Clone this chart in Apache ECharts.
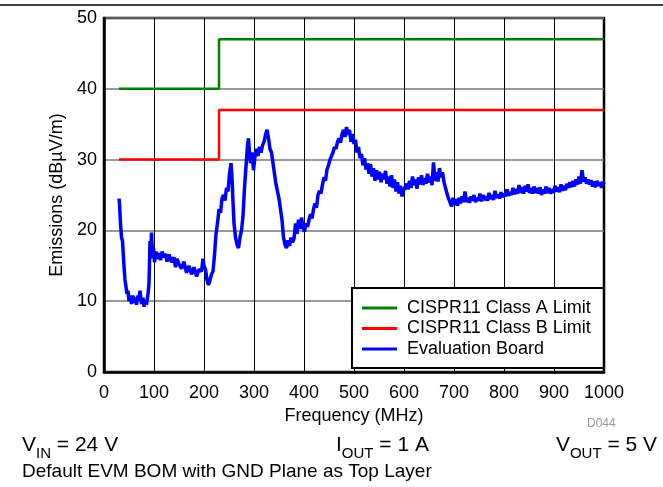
<!DOCTYPE html>
<html><head><meta charset="utf-8">
<script src="https://cdn.jsdelivr.net/npm/echarts@6/dist/echarts.min.js"></script>
<style>html,body{margin:0;padding:0;background:#fff}#c{width:663px;height:487px}</style>
</head><body><div id="c"></div>
<script>
const xTicks = [0,100,200,300,400,500,600,700,800,900,1000];
const yTicks = [0,10,20,30,40,50];
const classA = [[30,40],[230,40],[230,47],[1000,47]];
const classB = [[30,30],[230,30],[230,37],[1000,37]];
const evalFreq = [30,31,33,35,37,40,42,44,46,48,50,52,55,58,60,62,65,68,70,72,75,78,80,82,85,88,90,92,93,95,97,99,101,104,107,110,113,116,120,123,126,130,135,140,143,146,150,155,160,165,170,175,180,185,190,195,198,200,203,206,209,212,215,218,221,224,227,230,233,236,239,242,245,248,251,254,256,258,260,263,266,269,272,275,278,281,284,287,289,291,293,296,299,302,305,308,311,314,317,320,323,326,329,332,335,338,341,344,347,350,353,356,359,362,365,368,371,374,377,380,383,386,389,392,395,398,401,404,407,410,413,416,419,422,425,428,431,434,437,440,443,446,449,452,455,458,461,464,467,470,473,476,479,482,485,488,491,494,497,500,503,506,509,512,515,518,521,524,527,530,533,536,539,542,545,548,551,554,557,560,563,566,569,572,575,578,581,584,587,590,593,596,599,602,605,608,611,614,617,620,623,626,629,632,635,638,641,644,647,650,653,656,659,662,665,668,671,674,677,680,683,686,689,692,695,698,701,704,707,710,713,716,719,722,725,728,731,734,737,740,743,746,749,752,755,758,761,764,767,770,773,776,779,782,785,788,791,794,797,800,803,806,809,812,815,818,821,824,827,830,833,836,839,842,845,848,851,854,857,860,863,866,869,872,875,878,881,884,887,890,893,896,899,902,905,908,911,914,917,920,923,926,929,932,935,938,941,944,947,950,953,956,959,962,965,968,971,974,977,980,983,986,989,992,995,998,1000];
const evalVal = [24.5,23.8,21,19,18.5,15,13,12,11,11.5,10,10.8,9.6,10.8,9.8,10.5,9.5,10.8,10.2,11.5,9.6,10.5,9.2,10.2,9.5,11,12.5,18.5,16,19.7,16.5,17.5,15.5,17,16,16.8,15.8,17,16.2,16.7,15.6,16.6,15.5,16.2,14.8,16,15.2,14.6,15.6,14,15,13.8,14.8,13.5,14.5,14.2,16,15,14.5,13,12.3,13,13.8,14.2,16.5,19.5,21,23,22.5,24.5,25,24.2,26,25.5,28,29.5,27.5,24,21,19,18,17.5,19,20,22,26,29,32,33,31,29.5,31,28.5,30.5,31.5,30.5,31.8,31,32,32.5,33.5,34.2,33,31.5,31,29.5,28,26.5,25.5,24.5,23,21.5,19,18,17.5,18.6,17.8,19,18.3,18.8,21,19.5,21.5,20.2,21.8,20.5,19.8,21,20.5,21.5,22.3,21.7,23,23.8,23.2,25,25.6,25.2,26.5,27.5,27,28.6,29.2,30,29.8,31,31.8,31.5,32.5,33,32.4,33.6,34.2,33.2,34.6,33.5,34.2,32.5,33.6,32.2,32.8,31,31.8,30.2,30.8,29.2,30.2,28.6,29.5,28,29.4,27.6,28.8,27,28.5,27.2,28.3,26.8,28,27.2,28.4,26.6,27.6,26.2,27.8,26,27.2,25.5,26.8,25.2,26.3,24.8,25.6,25.4,26.6,25.8,27,26,27.6,26.4,27.2,25.9,27.5,26.5,27.8,26.4,27.4,26.6,28,26.8,27.6,26.4,29.6,27,28.2,26.9,28.8,27.5,28.2,26.8,26,25.2,24.5,24,23.4,24.6,23.6,24.4,23.5,24.6,23.8,24.8,24,25.5,24,24.6,23.9,24.8,24.2,25,24,24.6,24.2,25.2,24.1,25,24.3,24.8,24.2,25.3,24.4,25,24.3,25.6,24.6,25.1,24.5,25.4,24.7,25.2,24.8,25.8,24.9,25.4,25,26,25.1,25.8,25.2,26.4,25.3,26.1,25.2,26.3,25.5,26.5,25.3,26,25.2,26.2,25.3,26,25.2,26.1,25,25.8,25.2,26.2,25.3,26,25.2,25.8,25.3,26.3,25.5,26.1,25.4,26.5,25.6,26.3,25.7,26.6,26,26.8,26.1,27,26.2,27.2,26.5,27.6,26.6,28.5,26.9,27.5,26.6,27.2,26.5,27.1,26.2,26.9,26.1,27,26.3,26.8,26,26.9,26.5];
const evalData = evalFreq.map((f,i)=>[f, evalVal[i]]);

const chart = echarts.init(document.getElementById('c'), null, {renderer:'canvas'});
const FF = 'Liberation Sans, Arial, sans-serif';
const richSub = {m:{font:'21px '+FF, fill:'#000', verticalAlign:'bottom', lineHeight:24}, s:{font:'15px '+FF, fill:'#000', verticalAlign:'bottom', lineHeight:18, padding:[0,0,-5,0]}};
chart.setOption({
  animation:false,
  backgroundColor:'#fff',
  grid:{left:104, top:18, right:59, bottom:115, show:true, borderColor:'#000', borderWidth:2.5, backgroundColor:'transparent'},
  xAxis:{type:'value', min:0, max:1000, interval:100,
    name:'Frequency (MHz)', nameLocation:'middle', nameGap:30,
    nameTextStyle:{fontFamily:FF, fontSize:18, color:'#000'},
    axisLine:{show:true, lineStyle:{color:'#000', width:2.5}},
    axisTick:{show:false},
    axisLabel:{fontFamily:FF, fontSize:18, color:'#000', margin:12, formatter:v=>String(v)},
    splitLine:{show:true, lineStyle:{color:'#000', width:1}}},
  yAxis:{type:'value', min:0, max:50, interval:10,
    name:'Emissions (dBµV/m)', nameLocation:'middle', nameGap:36,
    nameTextStyle:{fontFamily:FF, fontSize:18, color:'#000'},
    axisLine:{show:true, lineStyle:{color:'#000', width:2.5}},
    axisTick:{show:false},
    axisLabel:{fontFamily:FF, fontSize:18, color:'#000', margin:7},
    splitLine:{show:true, lineStyle:{color:'#777', width:1.5}}},
  legend:{orient:'vertical', left:352, top:288,
    backgroundColor:'#fff', borderColor:'#000', borderWidth:2,
    padding:[11,13,10,10], itemGap:2.5, itemWidth:35, itemHeight:3,
    icon:'rect',
    textStyle:{fontFamily:FF, fontSize:18, color:'#000', padding:[0,0,0,5]},
    data:['CISPR11 Class A Limit','CISPR11 Class B Limit','Evaluation Board']},
  series:[
    {name:'CISPR11 Class A Limit', type:'line', data:classA, showSymbol:false, lineStyle:{color:'#008000', width:2.5}, itemStyle:{color:'#008000'}},
    {name:'CISPR11 Class B Limit', type:'line', data:classB, showSymbol:false, lineStyle:{color:'#ff0000', width:2.5}, itemStyle:{color:'#ff0000'}},
    {name:'Evaluation Board', type:'line', data:evalData, showSymbol:false, lineStyle:{color:'#0000ff', width:3.5}, itemStyle:{color:'#0000ff'}}
  ],
  graphic:[
    {type:'line', shape:{x1:0,y1:5,x2:663,y2:5}, style:{stroke:'#000', lineWidth:1.5}},
    {type:'text', left:587, top:418, style:{text:'D044', font:'12px '+FF, fill:'#999'}},
    {type:'text', left:22, top:435, style:{text:'{m|V}{s|IN}{m| = 24 V}', rich:richSub}},
    {type:'text', left:336, top:435, style:{text:'{m|I}{s|OUT}{m| = 1 A}', rich:richSub}},
    {type:'text', right:6, top:435, style:{text:'{m|V}{s|OUT}{m| = 5 V}', rich:richSub}},
    {type:'text', left:22, top:462, style:{text:'Default EVM BOM with GND Plane as Top Layer', font:'19px '+FF, fill:'#000'}}
  ]
});
</script></body></html>
